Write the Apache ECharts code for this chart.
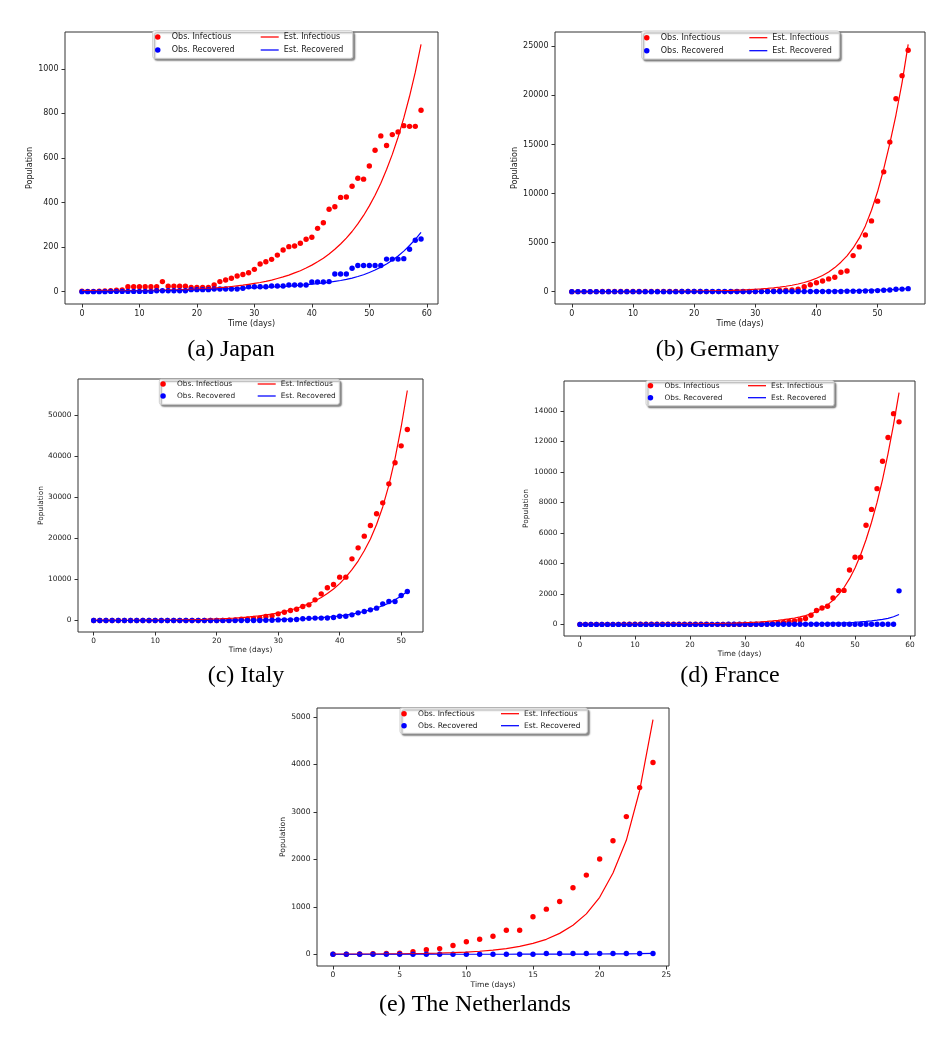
<!DOCTYPE html>
<html>
<head>
<meta charset="utf-8">
<title>Observed vs estimated infectious / recovered</title>
<script src="https://cdn.jsdelivr.net/npm/echarts@6/dist/echarts.min.js"></script>
<style>
  html, body { margin: 0; padding: 0; background: #fff; }
  #chart { width: 944px; height: 1051px; }
</style>
</head>
<body>
<div id="chart"></div>
<script>
// ---- data (one value per day, day index = position in the array) ----
var seriesNames = ['Obs. Infectious', 'Obs. Recovered', 'Est. Infectious', 'Est. Recovered'];

// (a) Japan, days 0..59
var japanObsInf = [2, 1, 1, 2, 3, 4, 6, 8, 22, 22, 22, 22, 22, 22, 45, 24, 24, 24, 24, 19,
    19, 19, 19, 30, 45, 52, 60, 70, 77, 85, 100, 124, 134, 145, 164, 187, 202, 205, 217, 235,
    244, 284, 309, 370, 381, 423, 425, 473, 509, 505, 564, 635, 699, 656, 705, 717, 745, 742, 742, 814];
var japanObsRec = [0, 0, 0, 0, 0, 1, 1, 1, 1, 1, 1, 1, 1, 4, 4, 4, 4, 4, 4, 9,
    9, 9, 9, 12, 12, 12, 12, 12, 15, 22, 22, 22, 22, 25, 25, 25, 30, 30, 30, 30,
    43, 43, 43, 45, 79, 79, 79, 105, 117, 117, 117, 117, 117, 146, 146, 146, 148, 190, 231, 236];
var japanEstInf = [3, 3, 3, 3, 4, 4, 4, 4, 5, 5, 5, 5, 6, 6, 6, 7, 7, 8, 9, 10,
    11, 13, 14, 16, 18, 20, 23, 26, 29, 33, 37, 41, 46, 52, 59, 66, 74, 84, 94, 106,
    119, 134, 150, 169, 190, 214, 240, 270, 304, 342, 385, 433, 487, 548, 616, 693, 780, 877, 985, 1110];
var japanEstRec = [0, 0, 0, 1, 1, 1, 2, 2, 2, 3, 3, 3, 4, 4, 5, 5, 6, 6, 7, 7,
    8, 9, 10, 11, 12, 13, 14, 15, 16, 17, 18, 19, 20, 21, 22, 24, 25, 27, 29, 31,
    34, 36, 39, 42, 46, 50, 55, 61, 68, 76, 86, 97, 110, 124, 141, 160, 182, 207, 235, 266];

// (b) Germany, days 0..55
var germanyObsInf = [1, 4, 4, 4, 5, 8, 10, 12, 12, 12, 12, 13, 13, 14, 14, 16, 16, 16, 16, 16,
    16, 16, 2, 2, 2, 2, 2, 2, 2, 3, 11, 30, 32, 63, 114, 143, 180, 246, 500, 700,
    900, 1090, 1300, 1470, 1980, 2110, 3670, 4560, 5780, 7210, 9220, 12210, 15240, 19660, 22010, 24600];
var germanyObsRec = [0, 0, 0, 0, 0, 0, 0, 0, 0, 0, 0, 0, 0, 0, 0, 0, 1, 1, 12, 12,
    14, 14, 14, 16, 16, 16, 16, 16, 16, 16, 16, 16, 16, 16, 16, 16, 16, 16, 16, 16,
    16, 16, 16, 16, 16, 46, 46, 46, 67, 67, 105, 136, 170, 240, 260, 306];
var germanyEstInf = [2, 2, 3, 3, 4, 4, 5, 6, 7, 8, 9, 10, 12, 13, 15, 18, 21, 25, 29, 34,
    40, 48, 58, 70, 84, 100, 120, 145, 170, 205, 245, 285, 335, 395, 465, 550, 650, 780, 930, 1120,
    1360, 1650, 2000, 2450, 3000, 3650, 4450, 5450, 6700, 8300, 10200, 12500, 15100, 18000, 21300, 25200];
var germanyEstRec = [0, 0, 0, 0, 0, 1, 1, 1, 1, 1, 2, 2, 2, 2, 3, 3, 3, 4, 4, 4,
    5, 5, 6, 6, 7, 8, 9, 10, 11, 12, 14, 16, 18, 20, 23, 26, 29, 33, 37, 42,
    48, 54, 61, 69, 78, 88, 100, 113, 128, 145, 164, 185, 210, 237, 268, 303];

// (c) Italy, days 0..51
var italyObsInf = [2, 2, 2, 2, 2, 2, 2, 3, 3, 3, 3, 3, 3, 3, 3, 3, 3, 3, 3, 3,
    3, 20, 62, 150, 325, 400, 490, 650, 975, 1140, 1626, 2030, 2440, 2760, 3410, 3820, 5040, 6500, 7970, 8780,
    10570, 10570, 15040, 17720, 20570, 23170, 26020, 28700, 33330, 38460, 42600, 46590];
var italyObsRec = [0, 0, 0, 0, 0, 0, 0, 0, 0, 0, 0, 0, 0, 0, 0, 0, 0, 0, 0, 0,
    0, 0, 0, 0, 0, 1, 1, 3, 45, 46, 150, 160, 160, 244, 414, 523, 589, 589, 622, 724,
    1045, 1045, 1380, 1870, 2200, 2600, 3010, 4060, 4630, 4630, 6100, 7070];
var italyEstInf = [17, 20, 23, 27, 31, 37, 43, 50, 58, 68, 80, 94, 110, 128, 150, 175, 205, 240, 280, 330,
    385, 450, 525, 615, 720, 845, 990, 1160, 1360, 1590, 1860, 2180, 2550, 3000, 3500, 4100, 4800, 5600, 6600, 7700,
    9000, 10600, 12400, 14500, 17000, 19900, 23400, 27700, 33000, 39500, 47200, 56100];
var italyEstRec = [1, 2, 2, 3, 3, 4, 5, 6, 7, 8, 9, 11, 13, 15, 17, 20, 24, 28, 32, 38,
    45, 53, 62, 72, 85, 100, 120, 140, 165, 190, 225, 265, 310, 365, 430, 510, 600, 700, 820, 960,
    1130, 1330, 1570, 1850, 2200, 2600, 3050, 3600, 4250, 5050, 6000, 7100];

// (d) France, days 0..58
var franceObsInf = [2, 3, 3, 3, 4, 5, 5, 5, 6, 6, 6, 6, 6, 6, 6, 11, 11, 11, 9, 9,
    7, 7, 7, 7, 5, 5, 1, 1, 1, 1, 1, 1, 3, 7, 27, 46, 100, 130, 195, 235,
    300, 390, 605, 910, 1080, 1190, 1730, 2230, 2230, 3570, 4400, 4400, 6500, 7540, 8900, 10700, 12260, 13820, 13280];
var franceObsRec = [0, 0, 0, 0, 0, 0, 0, 0, 0, 0, 0, 0, 0, 0, 0, 0, 0, 0, 0, 0,
    0, 2, 2, 2, 4, 4, 4, 12, 12, 12, 12, 12, 12, 12, 12, 12, 12, 12, 12, 12,
    12, 12, 12, 12, 12, 12, 12, 12, 12, 12, 12, 12, 12, 12, 12, 12, 12, 12, 2200];
var franceEstInf = [5, 6, 7, 8, 9, 10, 11, 12, 13, 14, 15, 17, 18, 20, 22, 24, 26, 28, 31, 34,
    37, 41, 45, 50, 55, 61, 68, 76, 86, 98, 112, 128, 147, 170, 197, 228, 265, 310, 360, 420,
    490, 580, 700, 850, 1040, 1280, 1580, 1960, 2420, 3000, 3700, 4550, 5550, 6700, 8000, 9500, 11200, 13100, 15200];
var franceEstRec = [0, 0, 0, 0, 0, 0, 1, 1, 1, 1, 1, 1, 2, 2, 2, 2, 3, 3, 3, 4,
    4, 5, 5, 6, 6, 7, 8, 9, 10, 11, 12, 14, 15, 17, 19, 21, 24, 27, 30, 34,
    38, 43, 48, 54, 61, 69, 79, 90, 104, 121, 141, 165, 195, 230, 275, 330, 400, 500, 650];

// (e) The Netherlands, days 0..24
var nlObsInf = [1, 2, 7, 10, 18, 25, 55, 95, 120, 185, 265, 315, 380, 505, 505, 790, 950, 1110, 1400, 1668,
    2006, 2390, 2900, 3510, 4040];
var nlObsRec = [0, 0, 0, 0, 0, 0, 0, 0, 0, 0, 0, 0, 0, 0, 0, 0, 15, 15, 15, 15,
    15, 15, 15, 15, 15];
var nlEstInf = [2, 3, 4, 6, 8, 10, 14, 19, 26, 35, 47, 64, 88, 120, 165, 228, 315, 440, 610, 850,
    1200, 1710, 2400, 3450, 4940];
var nlEstRec = [0, 0, 0, 0, 0, 0, 0, 0, 0, 0, 1, 1, 1, 1, 2, 2, 3, 3, 4, 5,
    6, 8, 10, 13, 17];

// tick labels
var xTicksA = [0, 10, 20, 30, 40, 50, 60];
var yTicksA = [0, 200, 400, 600, 800, 1000];
var xTicksB = [0, 10, 20, 30, 40, 50];
var yTicksB = [0, 5000, 10000, 15000, 20000, 25000];
var xTicksC = [0, 10, 20, 30, 40, 50];
var yTicksC = [0, 10000, 20000, 30000, 40000, 50000];
var xTicksD = [0, 10, 20, 30, 40, 50, 60];
var yTicksD = [0, 2000, 4000, 6000, 8000, 10000, 12000, 14000];
var xTicksE = [0, 5, 10, 15, 20, 25];
var yTicksE = [0, 1000, 2000, 3000, 4000, 5000];

// ---- layout of the five sub-figures (pixels) ----
var panels = [
    { caption: '(a) Japan', capX: 231, capTop: 337.5,
      grid: [65, 32, 373, 272], xr: [-2.95, 61.95], yr: [-55.5, 1165.5],
      xTicks: xTicksA, yTicks: yTicksA, font: 8, yNameGap: 31, xNameGap: 16,
      box: [152.7, 30.7, 200, 27.6], col1: 155, col2: 260.7, legTop: 30.5, row: 13,
      data: [japanObsInf, japanObsRec, japanEstInf, japanEstRec] },
    { caption: '(b) Germany', capX: 717.5, capTop: 337.5,
      grid: [555, 32, 370, 272], xr: [-2.75, 57.75], yr: [-1260, 26460],
      xTicks: xTicksB, yTicks: yTicksB, font: 8, yNameGap: 36, xNameGap: 16,
      box: [641.7, 31, 197.6, 28], col1: 644, col2: 749.3, legTop: 31.2, row: 13,
      data: [germanyObsInf, germanyObsRec, germanyEstInf, germanyEstRec] },
    { caption: '(c) Italy', capX: 246, capTop: 664,
      grid: [78, 379, 345, 253], xr: [-2.55, 53.55], yr: [-2805, 58905],
      xTicks: xTicksC, yTicks: yTicksC, font: 7.4, yNameGap: 33, xNameGap: 15,
      box: [159.3, 379.3, 180, 25], col1: 160.3, col2: 257.7, legTop: 378, row: 12,
      data: [italyObsInf, italyObsRec, italyEstInf, italyEstRec] },
    { caption: '(d) France', capX: 730, capTop: 664,
      grid: [564, 381, 351, 255], xr: [-2.9, 60.9], yr: [-760, 15960],
      xTicks: xTicksD, yTicks: yTicksD, font: 7.4, yNameGap: 34.5, xNameGap: 15,
      box: [646, 380.7, 188, 25], col1: 647.7, col2: 748, legTop: 379.7, row: 12,
      data: [franceObsInf, franceObsRec, franceEstInf, franceEstRec] },
    { caption: '(e) The Netherlands', capX: 475, capTop: 992.6,
      grid: [317, 708, 352, 258], xr: [-1.2, 25.2], yr: [-247, 5187],
      xTicks: xTicksE, yTicks: yTicksE, font: 7.6, yNameGap: 29.5, xNameGap: 15.5,
      box: [400, 708, 187.3, 25.3], col1: 401.3, col2: 501, legTop: 707.7, row: 12,
      data: [nlObsInf, nlObsRec, nlEstInf, nlEstRec] }
];

var seriesColors = ['#ff0000', '#0000ff', '#ff0000', '#0000ff'];
var txt = '#1a1a1a';
var sans = 'DejaVu Sans';
var lineIcon = 'path://M0,0H20V1.4H0Z';   // plain stroke for the fitted curves

function toPairs(arr) {
    var out = [];
    for (var i = 0; i < arr.length; i++) out.push([i, arr[i]]);
    return out;
}

function plainNum(v) { return String(v); }

var option = {
    animation: false,
    backgroundColor: '#fff',
    title: [], grid: [], xAxis: [], yAxis: [], legend: [], series: [], graphic: []
};

panels.forEach(function (p, k) {
    option.title.push({
        text: p.caption, left: p.capX, top: p.capTop, textAlign: 'center', padding: 0,
        textStyle: { fontFamily: 'Liberation Serif', fontSize: 24, fontWeight: 'normal', color: '#000' }
    });
    option.grid.push({
        left: p.grid[0], top: p.grid[1], width: p.grid[2], height: p.grid[3],
        show: true, borderColor: '#333', borderWidth: 1, backgroundColor: 'transparent'
    });
    option.xAxis.push({
        type: 'value', gridIndex: k, min: p.xr[0], max: p.xr[1], position: 'bottom',
        name: 'Time (days)', nameLocation: 'middle', nameGap: p.xNameGap,
        nameTextStyle: { fontFamily: sans, fontSize: p.font, color: txt },
        axisLine: { show: false, onZero: false },
        axisTick: { show: true, inside: false, length: 3.5, customValues: p.xTicks, lineStyle: { color: '#333' } },
        axisLabel: { customValues: p.xTicks, formatter: plainNum, margin: 5.5,
            fontFamily: sans, fontSize: p.font, color: txt },
        splitLine: { show: false }
    });
    option.yAxis.push({
        type: 'value', gridIndex: k, min: p.yr[0], max: p.yr[1], position: 'left',
        name: 'Population', nameLocation: 'middle', nameGap: p.yNameGap,
        nameTextStyle: { fontFamily: sans, fontSize: p.font, color: txt },
        axisLine: { show: false, onZero: false },
        axisTick: { show: true, inside: false, length: 3.5, customValues: p.yTicks, lineStyle: { color: '#333' } },
        axisLabel: { customValues: p.yTicks, formatter: plainNum, margin: 6.5,
            fontFamily: sans, fontSize: p.font, color: txt },
        splitLine: { show: false }
    });

    // legend frame with the grey drop shadow
    option.graphic.push({
        type: 'rect', z: 10,
        shape: { x: p.box[0], y: p.box[1], width: p.box[2], height: p.box[3], r: 2 },
        style: { fill: '#fff', stroke: '#cfcfcf', lineWidth: 1,
            shadowColor: 'rgba(0,0,0,0.45)', shadowOffsetX: 2, shadowOffsetY: 2, shadowBlur: 1.5 }
    });
    // two legend columns: observed / estimated
    var cols = [
        [{ name: seriesNames[0], icon: 'circle' }, { name: seriesNames[1], icon: 'circle' }],
        [{ name: seriesNames[2], icon: lineIcon }, { name: seriesNames[3], icon: lineIcon }]
    ];
    cols.forEach(function (items, c) {
        option.legend.push({
            orient: 'vertical', left: c === 0 ? p.col1 : p.col2, top: p.legTop,
            padding: 0, itemGap: 0, itemWidth: 18, itemHeight: 5.5, selectedMode: false, z: 20,
            data: items,
            textStyle: { fontFamily: sans, fontSize: p.font, lineHeight: p.row, color: txt }
        });
    });

    for (var s = 0; s < 4; s++) {
        var isLine = s >= 2;
        option.series.push(isLine ? {
            name: seriesNames[s], type: 'line', xAxisIndex: k, yAxisIndex: k,
            data: toPairs(p.data[s]), symbol: 'none', showSymbol: false, z: 4,
            lineStyle: { color: seriesColors[s], width: 1.2 }, itemStyle: { color: seriesColors[s] }
        } : {
            name: seriesNames[s], type: 'scatter', xAxisIndex: k, yAxisIndex: k,
            data: toPairs(p.data[s]), symbol: 'circle', symbolSize: 5.4, z: 3,
            itemStyle: { color: seriesColors[s], opacity: 1 }
        });
    }
});

var myChart = echarts.init(document.getElementById('chart'));
myChart.setOption(option);
</script>
</body>
</html>
